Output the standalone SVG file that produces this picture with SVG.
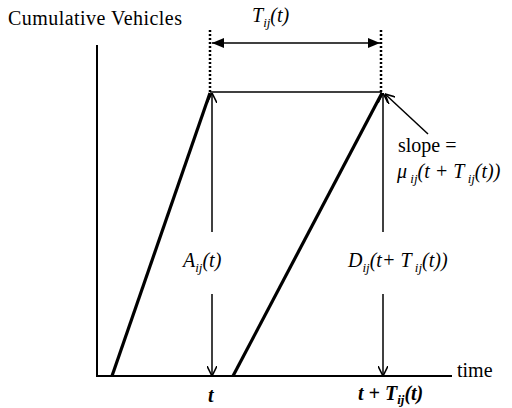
<svg xmlns="http://www.w3.org/2000/svg" width="512" height="408" viewBox="0 0 512 408">
<defs>
<marker id="open" viewBox="0 0 10 10" refX="10" refY="5" markerWidth="10" markerHeight="10" markerUnits="userSpaceOnUse" orient="auto">
<path d="M0,0 L10,5 L0,10" fill="none" stroke="#000" stroke-width="1.6"/>
</marker>
<marker id="fill" viewBox="0 0 12 10" refX="12" refY="5" markerWidth="12" markerHeight="10" markerUnits="userSpaceOnUse" orient="auto-start-reverse">
<path d="M0,0 L12,5 L0,10 Z" fill="#000"/>
</marker>
</defs>
<rect width="512" height="408" fill="#fff"/>
<g id="axes">
<path d="M97,45 L97,376 L452,376" stroke="#000" stroke-width="2" fill="none"/>
<text x="8" y="25" font-family="Times New Roman, Liberation Serif, serif" font-size="20" textLength="174">Cumulative Vehicles</text>
<text x="457" y="377" font-family="Times New Roman, Liberation Serif, serif" font-size="20">time</text>
</g>
<g id="arrival-curve">
<path d="M112,376 L210,93" stroke="#000" stroke-width="3.2" fill="none"/>
</g>
<g id="departure-curve">
<path d="M233,376 L382,93" stroke="#000" stroke-width="3.2" fill="none"/>
</g>
<g id="connectors" stroke="#000" stroke-width="1.5" fill="none">
<path d="M210,92 L382,92"/>
<path d="M210,30 L210,92" stroke-width="2.5" stroke-dasharray="2 2"/>
<path d="M381,30 L381,92" stroke-width="2.5" stroke-dasharray="2 2"/>
<path d="M212,43 L380,43" marker-start="url(#fill)" marker-end="url(#fill)"/>
<path d="M212,232 L212,93" marker-end="url(#open)"/>
<path d="M212,294 L212,376" marker-end="url(#open)"/>
<path d="M383,232 L383,93" marker-end="url(#open)"/>
<path d="M383,294 L383,376" marker-end="url(#open)"/>
<path d="M428,134 L385,94" marker-end="url(#open)"/>
</g>
<g id="labels">
<text x="252" y="22" font-family="Times New Roman, Liberation Serif, serif" font-size="20" font-style="italic">T<tspan font-size="13" dy="5">ij</tspan><tspan dy="-5">(t)</tspan></text>
<text x="183" y="267" font-family="Times New Roman, Liberation Serif, serif" font-size="20" font-style="italic">A<tspan font-size="13" dy="5">ij</tspan><tspan dy="-5">(t)</tspan></text>
<text x="348" y="267" font-family="Times New Roman, Liberation Serif, serif" font-size="20" font-style="italic">D<tspan font-size="13" dy="5">ij</tspan><tspan dy="-5">(t+ T</tspan><tspan font-size="13" dy="5"> ij</tspan><tspan dy="-5">(t))</tspan></text>
<text x="398" y="152" font-family="Times New Roman, Liberation Serif, serif" font-size="20">slope =</text>
<text x="397" y="178" font-family="Times New Roman, Liberation Serif, serif" font-size="20" font-style="italic">μ<tspan font-size="13" dy="5"> ij</tspan><tspan dy="-5">(t + T</tspan><tspan font-size="13" dy="5"> ij</tspan><tspan dy="-5">(t))</tspan></text>
<text x="208" y="402" font-family="Times New Roman, Liberation Serif, serif" font-size="20" font-style="italic" font-weight="bold">t</text>
<text x="358" y="400" font-family="Times New Roman, Liberation Serif, serif" font-size="20" font-style="italic" font-weight="bold">t + T<tspan font-size="13" dy="4">ij</tspan><tspan dy="-4">(t)</tspan></text>
</g>
</svg>
